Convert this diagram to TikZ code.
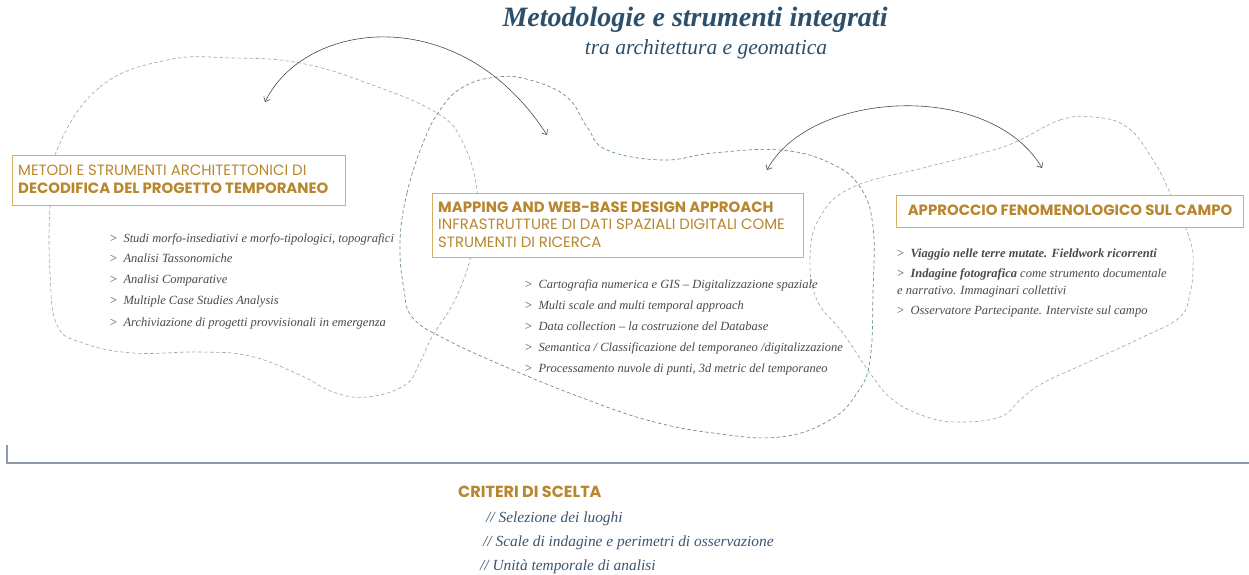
\documentclass[tikz,border=0pt]{standalone}
\usepackage{fontspec}
\setmainfont{Liberation Serif}
\newfontfamily\pop{Poppins}
\usetikzlibrary{arrows.meta}
\definecolor{goldc}{HTML}{B8862E}
\definecolor{boxc}{HTML}{D6AE66}
\definecolor{titlec}{HTML}{2C4F6B}
\definecolor{itemc}{HTML}{4A4A4A}
\definecolor{critc}{HTML}{3D5570}
\definecolor{tealc}{HTML}{6A8F99}
\definecolor{grayc}{HTML}{A3A3A3}
\definecolor{arrowc}{HTML}{4A4A4A}
\definecolor{rulec}{HTML}{8D9BA8}
\begin{document}
\begin{tikzpicture}[x=1pt,y=-1pt,
  blobgray/.style={draw=grayc, line width=0.6pt, dash pattern=on 3.5pt off 2.5pt},
  blobteal/.style={draw=tealc, line width=0.7pt, dash pattern=on 3.5pt off 2.5pt},
  framebox/.style={draw=boxc, line width=0.8pt, fill=white, inner sep=0pt, anchor=north west},
  headl/.style={font=\pop\fontsize{14.9}{15}\selectfont, text=goldc, anchor=base west, inner sep=0pt},
  headb/.style={font=\pop\bfseries\fontsize{14.9}{15}\selectfont, text=goldc, anchor=base west, inner sep=0pt},
  item/.style={font=\fontsize{12.5}{13}\selectfont, text=itemc, anchor=base west, inner sep=0pt},
  crit/.style={font=\itshape\fontsize{15.4}{16}\selectfont, text=critc, anchor=base west, inner sep=0pt},
  link/.style={draw=arrowc, line width=0.6pt, {Straight Barb[length=4pt,width=7pt]}-{Straight Barb[length=4pt,width=7pt]}}
]
\useasboundingbox (0,0) rectangle (1249,574);
\fill[white] (0,0) rectangle (1249,574);

% blobs
\draw[blobgray] plot[smooth cycle, tension=0.7] coordinates {(57,150) (100,87) (167,60) (233,58) (300,63) (367,83) (437,113) (463,143) (477,190) (475,230) (470,260) (455,300) (432,337) (420,362) (405,385) (367,397) (333,392) (300,375) (250,356) (200,352) (133,353) (83,343) (57,325) (50,273) (50,207)};
\draw[blobteal] plot[smooth cycle, tension=0.7] coordinates {(400,243) (407,193) (423,143) (440,110) (463,87) (497,77) (530,80) (567,97) (587,127) (607,150) (663,160) (713,153) (780,150) (830,163) (860,187) (873,227) (873,293) (870,360) (857,393) (830,420) (780,437) (713,433) (647,420) (580,397) (513,370) (447,340) (413,318) (404,290)};
\draw[blobgray] plot[smooth cycle, tension=0.7] coordinates {(1020,140) (1060,120) (1093,117) (1127,127) (1153,160) (1170,193) (1190,240) (1193,267) (1190,293) (1180,317) (1143,337) (1093,360) (1043,383) (1020,400) (1000,417) (960,422) (927,417) (893,400) (870,373) (843,333) (817,300) (810,257) (820,217) (853,187) (927,167) (993,150)};

% arrows
\coordinate (a1s) at (265,102);
\coordinate (a1e) at (547,135);
\coordinate (a2s) at (767,170);
\coordinate (a2e) at (1042,168);
\draw[link] (a1s) .. controls (305,20) and (460,0) .. (a1e);
\draw[link] (a2s) .. controls (810,90) and (990,80) .. (a2e);

% title
\node[font=\bfseries\itshape\fontsize{28}{30}\selectfont, text=titlec, anchor=base, inner sep=0pt] (title) at (695,26) {Metodologie e strumenti integrati};
\node[font=\itshape\fontsize{21.5}{23}\selectfont, text=titlec, anchor=base, inner sep=0pt] (subtitle) at (706,54) {tra architettura e geomatica};

% box 1
\node[framebox, minimum width=333pt, minimum height=50pt] (b1) at (12,155) {};
\node[headl] (b1l1) at (18,175) {METODI E STRUMENTI ARCHITETTONICI DI};
\node[headb] (b1l2) at (18,193) {DECODIFICA DEL PROGETTO TEMPORANEO};

% box 2
\node[framebox, minimum width=371pt, minimum height=64pt] (b2) at (432,193) {};
\node[headb] (b2l1) at (438,212) {MAPPING AND WEB-BASE DESIGN APPROACH};
\node[headl] (b2l2) at (438,229) {INFRASTRUTTURE DI DATI SPAZIALI DIGITALI COME};
\node[headl] (b2l3) at (438,247) {STRUMENTI DI RICERCA};

% box 3
\node[framebox, minimum width=347pt, minimum height=32pt] (b3) at (896,195) {};
\node[headb, anchor=base] (b3l1) at (1070,215) {APPROCCIO FENOMENOLOGICO SUL CAMPO};

% list 1
\node[item] (i11) at (110,242) {>\ \ \textit{Studi morfo-insediativi e morfo-tipologici, topografici}};
\node[item] (i12) at (110,262) {>\ \ \textit{Analisi Tassonomiche}};
\node[item] (i13) at (110,283) {>\ \ \textit{Analisi Comparative}};
\node[item] (i14) at (110,304) {>\ \ \textit{Multiple Case Studies Analysis}};
\node[item] (i15) at (110,326) {>\ \ \textit{Archiviazione di progetti provvisionali in emergenza}};

% list 2
\node[item] (i21) at (525,288) {>\ \ \textit{Cartografia numerica e GIS -- Digitalizzazione spaziale}};
\node[item] (i22) at (525,309) {>\ \ \textit{Multi scale and multi temporal approach}};
\node[item] (i23) at (525,330) {>\ \ \textit{Data collection -- la costruzione del Database}};
\node[item] (i24) at (525,351) {>\ \ \textit{Semantica / Classificazione del temporaneo /digitalizzazione}};
\node[item] (i25) at (525,372) {>\ \ \textit{Processamento nuvole di punti, 3d metric del temporaneo}};

% list 3
\node[item] (i31) at (897,257) {>\ \ \textit{\textbf{Viaggio nelle terre mutate. Fieldwork ricorrenti}}};
\node[item] (i32) at (897,277) {>\ \ \textit{\textbf{Indagine fotografica} come strumento documentale}};
\node[item] (i33) at (897,294) {\textit{e narrativo. Immaginari collettivi}};
\node[item] (i34) at (897,314) {>\ \ \textit{Osservatore Partecipante. Interviste sul campo}};

% rule
\coordinate (r0) at (7,445);
\coordinate (r1) at (7,463);
\coordinate (r2) at (1249,463);
\draw[rulec, line width=1.4pt] (r0) -- (r1) -- (r2);

% criteri
\node[font=\pop\bfseries\fontsize{16}{18}\selectfont, text=goldc, anchor=base west, inner sep=0pt] (crith) at (458,497) {CRITERI DI SCELTA};
\node[crit] (c1) at (486,522) {// Selezione dei luoghi};
\node[crit] (c2) at (483,546) {// Scale di indagine e perimetri di osservazione};
\node[crit] (c3) at (480,570) {// Unità temporale di analisi};
\end{tikzpicture}
\end{document}
